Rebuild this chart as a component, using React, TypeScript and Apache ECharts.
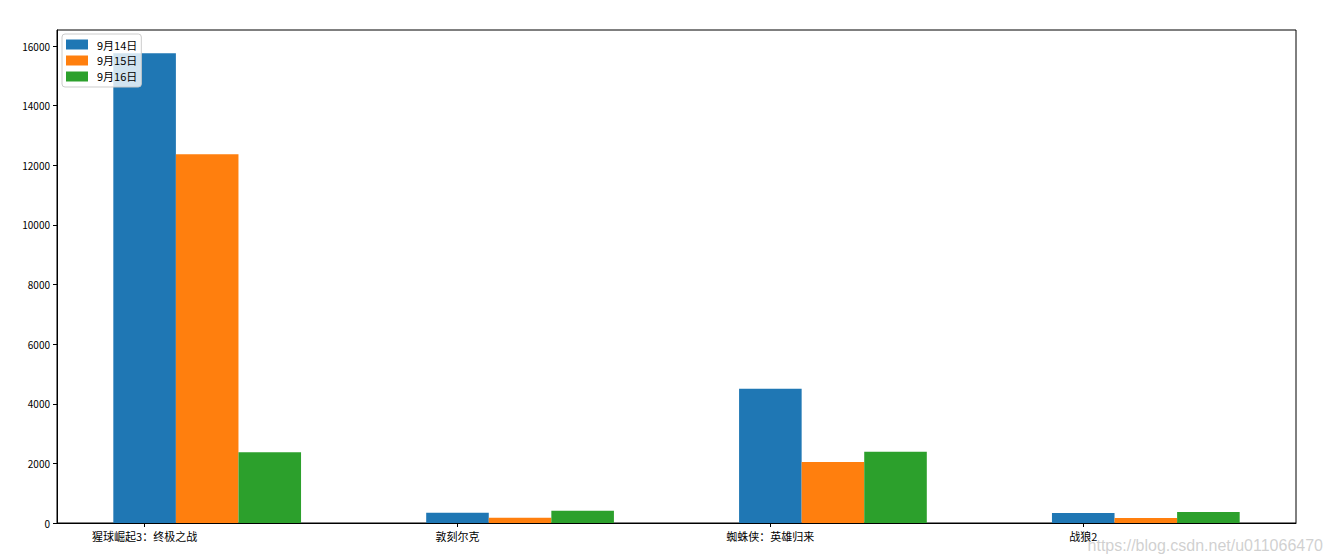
import React, { useEffect, useRef } from "react";
import * as echarts from "echarts";

const categories = ["猩球崛起3：终极之战", "敦刻尔克", "蜘蛛侠：英雄归来", "战狼2"];
const seriesNames = ["9月14日", "9月15日", "9月16日"];
const sep14 = [15760, 346, 4500, 336];
const sep15 = [12370, 178, 2050, 170];
const sep16 = [2370, 413, 2390, 372];
const yTicks = [0, 2000, 4000, 6000, 8000, 10000, 12000, 14000, 16000];
const colors = ["#1f77b4", "#ff7f0e", "#2ca02c"];

const BAR_W = 0.2;

export default function App() {
  const ref = useRef<HTMLDivElement>(null);
  useEffect(() => {
    const chart = echarts.init(ref.current!, null, { renderer: "svg" });
    const all = [sep14, sep15, sep16];
    const series = all.map((vals, k) => ({
      type: "custom",
      name: seriesNames[k],
      itemStyle: { color: colors[k] },
      data: vals.map((v, i) => [i + k * BAR_W, v]),
      renderItem: (params: any, api: any) => {
        const x = api.value(0);
        const y = api.value(1);
        const p0 = api.coord([x - BAR_W / 2, y]);
        const p1 = api.coord([x + BAR_W / 2, 0]);
        return {
          type: "rect",
          shape: { x: p0[0], y: p0[1], width: p1[0] - p0[0], height: p1[1] - p0[1] },
          style: { fill: colors[k] },
        };
      },
    }));
    chart.setOption({
      animation: false,
      textStyle: { fontFamily: "'Noto Sans CJK SC', 'DejaVu Sans', sans-serif" },
      grid: {
        left: 57,
        right: 37,
        top: 30,
        bottom: 36,
        show: true,
        borderColor: "#000",
        borderWidth: 1,
        backgroundColor: "transparent",
      },
      legend: {
        orient: "vertical",
        left: 62,
        top: 34,
        itemWidth: 22,
        itemHeight: 10,
        itemGap: 5,
        padding: [5, 4, 5, 4],
        backgroundColor: "rgba(255,255,255,0.8)",
        borderColor: "#cccccc",
        borderWidth: 1,
        borderRadius: 3,
        textStyle: { fontSize: 11, color: "#000", padding: [0, 0, 0, 4] },
        data: seriesNames.map((n, k) => ({ name: n, icon: "rect", itemStyle: { color: colors[k] } })),
      },
      xAxis: {
        type: "value",
        min: -0.28,
        max: 3.68,
        splitLine: { show: false },
        axisLine: { show: true, onZero: false, lineStyle: { color: "#000", width: 1 } },
        axisTick: { show: true, length: 4, lineStyle: { color: "#000" }, customValues: [0, 1, 2, 3] },
        axisLabel: {
          color: "#000",
          fontSize: 11,
          margin: 7,
          customValues: [0, 1, 2, 3],
          formatter: (v: number) => categories[Math.round(v)] ?? "",
        },
      },
      yAxis: {
        type: "value",
        min: 0,
        max: 16538,
        splitLine: { show: false },
        axisLine: { show: true, onZero: false, lineStyle: { color: "#000", width: 1 } },
        axisTick: { show: true, length: 4, lineStyle: { color: "#000" }, customValues: yTicks },
        axisLabel: {
          color: "#000",
          fontSize: 10,
          margin: 7,
          customValues: yTicks,
          formatter: (v: number) => String(v),
        },
      },
      graphic: [
        {
          type: "text",
          right: 10,
          bottom: 6,
          style: {
            text: "https://blog.csdn.net/u011066470",
            fill: "rgba(200,200,200,0.85)",
            fontSize: 16,
            fontFamily: "Arial, 'Liberation Sans', sans-serif",
          },
        },
      ],
      series,
    });
    return () => chart.dispose();
  }, []);
  return (
    <div
      ref={ref}
      style={{ position: "fixed", left: 0, top: 0, width: 1333, height: 559, background: "#fff" }}
    />
  );
}
